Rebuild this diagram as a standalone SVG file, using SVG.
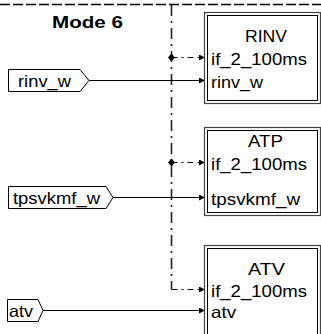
<svg xmlns="http://www.w3.org/2000/svg" width="321" height="334" viewBox="0 0 321 334">
<style>
text{font-family:"Liberation Sans",Arial,sans-serif;font-size:16.5px;fill:#000}
.bold{font-weight:bold}
.outer{fill:#fff;stroke:#444;stroke-width:1.2}
.inner{fill:none;stroke:#000;stroke-width:1}
.sig{fill:#fff;stroke:#000;stroke-width:1}
.wire{fill:none;stroke:#000;stroke-width:1}
.vdd{fill:none;stroke:#222;stroke-width:1.6;stroke-dasharray:11 5 2 5}
.hdd{fill:none;stroke:#000;stroke-width:1;stroke-dasharray:6 4 2 4}
.top{fill:none;stroke:#000;stroke-width:1.6;stroke-dasharray:10 3}
</style>
<defs>
<marker id="arr" markerWidth="6" markerHeight="6" refX="6" refY="3" orient="auto" markerUnits="userSpaceOnUse">
<path d="M0,0 L6,3 L0,6 Z" fill="#000"/>
</marker>
</defs>
<rect width="321" height="334" fill="#fff"/>
<g id="frame">
<line class="top" x1="0" y1="4.5" x2="321" y2="4.5"/>
<text class="bold" x="52" y="28" font-size="18" textLength="71" lengthAdjust="spacingAndGlyphs">Mode 6</text>
</g>
<g id="connectors">
<path class="vdd" d="M171.5,5 V289.5"/>
<path class="hdd" d="M171.5,289.5 H205" marker-end="url(#arr)"/>
<path class="hdd" d="M171.5,57.5 H205" marker-end="url(#arr)"/>
<path class="hdd" d="M171.5,162.5 H205" marker-end="url(#arr)"/>
<path d="M171.5,53.5 L175,57.5 L171.5,61.5 L168,57.5 Z" fill="#000"/>
<path d="M171.5,158.5 L175,162.5 L171.5,166.5 L168,162.5 Z" fill="#000"/>
<line class="wire" x1="89" y1="80.5" x2="205" y2="80.5" marker-end="url(#arr)"/>
<line class="wire" x1="113" y1="197.5" x2="205" y2="197.5" marker-end="url(#arr)"/>
<line class="wire" x1="43" y1="310.5" x2="205" y2="310.5" marker-end="url(#arr)"/>
</g>
<g id="in_rinv_w">
<path class="sig" d="M8.5,69.5 H80 L89,80.5 L80,91.5 H8.5 Z"/>
<text x="18" y="87" textLength="53" lengthAdjust="spacingAndGlyphs">rinv_w</text>
</g>
<g id="in_tpsvkmf_w">
<path class="sig" d="M8.5,186.5 H106 L113,197.5 L106,208.5 H8.5 Z"/>
<text x="13" y="204" textLength="87" lengthAdjust="spacingAndGlyphs">tpsvkmf_w</text>
</g>
<g id="in_atv">
<path class="sig" d="M7.5,299.5 H38 L43,310.5 L38,321.5 H7.5 Z"/>
<text x="9" y="317" textLength="24" lengthAdjust="spacingAndGlyphs">atv</text>
</g>
<g id="RINV">
<rect class="outer" x="204.5" y="12.5" width="116" height="91"/>
<rect class="inner" x="207.5" y="15.5" width="110" height="85"/>
<text x="245" y="42" textLength="42" lengthAdjust="spacingAndGlyphs">RINV</text>
<text x="211" y="65" textLength="96" lengthAdjust="spacingAndGlyphs">if_2_100ms</text>
<text x="211" y="88" textLength="52" lengthAdjust="spacingAndGlyphs">rinv_w</text>
</g>
<g id="ATP">
<rect class="outer" x="204.5" y="127.5" width="116" height="88"/>
<rect class="inner" x="207.5" y="130.5" width="110" height="82"/>
<text x="248" y="147" textLength="35" lengthAdjust="spacingAndGlyphs">ATP</text>
<text x="211" y="170" textLength="96" lengthAdjust="spacingAndGlyphs">if_2_100ms</text>
<text x="211" y="205" textLength="89" lengthAdjust="spacingAndGlyphs">tpsvkmf_w</text>
</g>
<g id="ATV">
<rect class="outer" x="204.5" y="245.5" width="116" height="100"/>
<rect class="inner" x="207.5" y="248.5" width="110" height="94"/>
<text x="248" y="275" textLength="37" lengthAdjust="spacingAndGlyphs">ATV</text>
<text x="211" y="297" textLength="96" lengthAdjust="spacingAndGlyphs">if_2_100ms</text>
<text x="211" y="318" textLength="25" lengthAdjust="spacingAndGlyphs">atv</text>
</g>
</svg>
